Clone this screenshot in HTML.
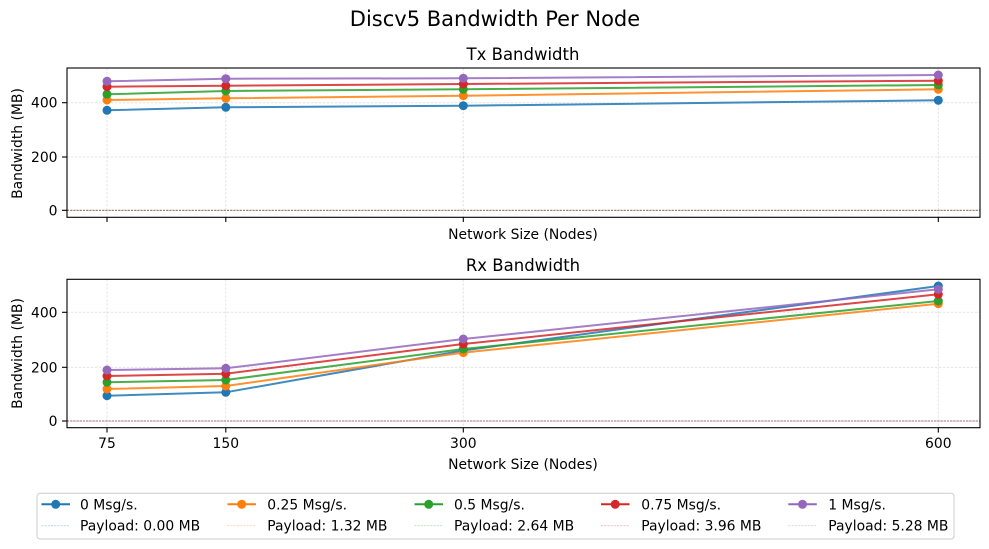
<!DOCTYPE html>
<html>
<head>
<meta charset="utf-8">
<style>
html,body{margin:0;padding:0;background:#fff;}
svg{display:block;font-family:"DejaVu Sans","Liberation Sans",sans-serif;}
</style>
</head>
<body>
<svg width="989" height="549" viewBox="0 0 989 549" xmlns="http://www.w3.org/2000/svg">
<rect width="989" height="549" fill="#fff"/>
<text x="495" y="26" font-size="21" text-anchor="middle" fill="#000">Discv5 Bandwidth Per Node</text>

<!-- ===== TOP AXES ===== -->
<text x="523" y="60" font-size="16.5" text-anchor="middle">Tx Bandwidth</text>
<g stroke="#b0b0b0" stroke-opacity="0.35" stroke-width="1" stroke-dasharray="2.5,1.5">
  <line x1="107" y1="68" x2="107" y2="217"/>
  <line x1="225.8" y1="68" x2="225.8" y2="217"/>
  <line x1="463.3" y1="68" x2="463.3" y2="217"/>
  <line x1="938.3" y1="68" x2="938.3" y2="217"/>
  <line x1="67" y1="210.3" x2="980" y2="210.3"/>
  <line x1="67" y1="157" x2="980" y2="157"/>
  <line x1="67" y1="102.7" x2="980" y2="102.7"/>
</g>
<g stroke-width="0.9" stroke-dasharray="2,1.2" fill="none">
  <line x1="67" y1="210.3" x2="980" y2="210.3" stroke="#1f77b4" stroke-opacity="0.5"/>
  <line x1="67" y1="210.3" x2="980" y2="210.3" stroke="#ff7f0e" stroke-opacity="0.5"/>
  <line x1="67" y1="210.3" x2="980" y2="210.3" stroke="#2ca02c" stroke-opacity="0.5"/>
  <line x1="67" y1="210.3" x2="980" y2="210.3" stroke="#d62728" stroke-opacity="0.3"/>
  <line x1="67" y1="210.3" x2="980" y2="210.3" stroke="#9467bd" stroke-opacity="0.3"/>
</g>
<g fill="none" stroke-width="2" stroke-opacity="0.85">
  <polyline stroke="#1f77b4" points="107,110.3 225.8,107.3 463.3,105.7 938.3,100.3"/>
  <polyline stroke="#ff7f0e" points="107,100 225.8,98.3 463.3,95.7 938.3,89.3"/>
  <polyline stroke="#2ca02c" points="107,94.3 225.8,91 463.3,89.3 938.3,85"/>
  <polyline stroke="#d62728" points="107,86.7 225.8,85.7 463.3,84 938.3,80.7"/>
  <polyline stroke="#9467bd" points="107,81.3 225.8,78.7 463.3,78.3 938.3,75"/>
</g>
<g>
  <g fill="#1f77b4"><circle cx="107" cy="110.3" r="4.5"/><circle cx="225.8" cy="107.3" r="4.5"/><circle cx="463.3" cy="105.7" r="4.5"/><circle cx="938.3" cy="100.3" r="4.5"/></g>
  <g fill="#ff7f0e"><circle cx="107" cy="100" r="4.5"/><circle cx="225.8" cy="98.3" r="4.5"/><circle cx="463.3" cy="95.7" r="4.5"/><circle cx="938.3" cy="89.3" r="4.5"/></g>
  <g fill="#2ca02c"><circle cx="107" cy="94.3" r="4.5"/><circle cx="225.8" cy="91" r="4.5"/><circle cx="463.3" cy="89.3" r="4.5"/><circle cx="938.3" cy="85" r="4.5"/></g>
  <g fill="#d62728"><circle cx="107" cy="86.7" r="4.5"/><circle cx="225.8" cy="85.7" r="4.5"/><circle cx="463.3" cy="84" r="4.5"/><circle cx="938.3" cy="80.7" r="4.5"/></g>
  <g fill="#9467bd"><circle cx="107" cy="81.3" r="4.5"/><circle cx="225.8" cy="78.7" r="4.5"/><circle cx="463.3" cy="78.3" r="4.5"/><circle cx="938.3" cy="75" r="4.5"/></g>
</g>
<rect x="67" y="68" width="913" height="149.3" fill="none" stroke="#000" stroke-width="1.1"/>
<g stroke="#000" stroke-width="1.1">
  <line x1="107" y1="217.3" x2="107" y2="222"/>
  <line x1="225.8" y1="217.3" x2="225.8" y2="222"/>
  <line x1="463.3" y1="217.3" x2="463.3" y2="222"/>
  <line x1="938.3" y1="217.3" x2="938.3" y2="222"/>
  <line x1="62" y1="210.3" x2="67" y2="210.3"/>
  <line x1="62" y1="157" x2="67" y2="157"/>
  <line x1="62" y1="102.7" x2="67" y2="102.7"/>
</g>
<g font-size="13.9" text-anchor="end">
  <text x="57.5" y="215.3">0</text>
  <text x="57.5" y="162">200</text>
  <text x="57.5" y="107.7">400</text>
</g>
<text transform="translate(22,143.5) rotate(-90)" font-size="13.9" text-anchor="middle">Bandwidth (MB)</text>
<text x="523" y="239" font-size="13.9" text-anchor="middle">Network Size (Nodes)</text>

<!-- ===== BOTTOM AXES ===== -->
<text x="523" y="271" font-size="16.5" text-anchor="middle">Rx Bandwidth</text>
<g stroke="#b0b0b0" stroke-opacity="0.35" stroke-width="1" stroke-dasharray="2.5,1.5">
  <line x1="107" y1="279.3" x2="107" y2="427.7"/>
  <line x1="225.8" y1="279.3" x2="225.8" y2="427.7"/>
  <line x1="463.3" y1="279.3" x2="463.3" y2="427.7"/>
  <line x1="938.3" y1="279.3" x2="938.3" y2="427.7"/>
  <line x1="67" y1="421" x2="980" y2="421"/>
  <line x1="67" y1="367.3" x2="980" y2="367.3"/>
  <line x1="67" y1="312.3" x2="980" y2="312.3"/>
</g>
<g stroke-width="0.9" stroke-dasharray="2,1.2" fill="none">
  <line x1="67" y1="421" x2="980" y2="421" stroke="#1f77b4" stroke-opacity="0.4"/>
  <line x1="67" y1="421" x2="980" y2="421" stroke="#ff7f0e" stroke-opacity="0.4"/>
  <line x1="67" y1="421" x2="980" y2="421" stroke="#2ca02c" stroke-opacity="0.3"/>
  <line x1="67" y1="421" x2="980" y2="421" stroke="#d62728" stroke-opacity="0.5"/>
  <line x1="67" y1="421" x2="980" y2="421" stroke="#9467bd" stroke-opacity="0.4"/>
</g>
<g fill="none" stroke-width="2" stroke-opacity="0.85">
  <polyline stroke="#1f77b4" points="107,395.7 225.8,392.3 463.3,350.5 938.3,286"/>
  <polyline stroke="#ff7f0e" points="107,389 225.8,386 463.3,352.6 938.3,303.7"/>
  <polyline stroke="#2ca02c" points="107,382.3 225.8,380 463.3,349 938.3,301"/>
  <polyline stroke="#d62728" points="107,376 225.8,373.7 463.3,344 938.3,294.3"/>
  <polyline stroke="#9467bd" points="107,370 225.8,368.3 463.3,339 938.3,289.3"/>
</g>
<g>
  <g fill="#1f77b4"><circle cx="107" cy="395.7" r="4.5"/><circle cx="225.8" cy="392.3" r="4.5"/><circle cx="463.3" cy="350.5" r="4.5"/><circle cx="938.3" cy="286" r="4.5"/></g>
  <g fill="#ff7f0e"><circle cx="107" cy="389" r="4.5"/><circle cx="225.8" cy="386" r="4.5"/><circle cx="463.3" cy="352.6" r="4.5"/><circle cx="938.3" cy="303.7" r="4.5"/></g>
  <g fill="#2ca02c"><circle cx="107" cy="382.3" r="4.5"/><circle cx="225.8" cy="380" r="4.5"/><circle cx="463.3" cy="349" r="4.5"/><circle cx="938.3" cy="301" r="4.5"/></g>
  <g fill="#d62728"><circle cx="107" cy="376" r="4.5"/><circle cx="225.8" cy="373.7" r="4.5"/><circle cx="463.3" cy="344" r="4.5"/><circle cx="938.3" cy="294.3" r="4.5"/></g>
  <g fill="#9467bd"><circle cx="107" cy="370" r="4.5"/><circle cx="225.8" cy="368.3" r="4.5"/><circle cx="463.3" cy="339" r="4.5"/><circle cx="938.3" cy="289.3" r="4.5"/></g>
</g>
<rect x="67" y="279.3" width="913" height="148.4" fill="none" stroke="#000" stroke-width="1.1"/>
<g stroke="#000" stroke-width="1.1">
  <line x1="107" y1="427.7" x2="107" y2="432.5"/>
  <line x1="225.8" y1="427.7" x2="225.8" y2="432.5"/>
  <line x1="463.3" y1="427.7" x2="463.3" y2="432.5"/>
  <line x1="938.3" y1="427.7" x2="938.3" y2="432.5"/>
  <line x1="62" y1="421" x2="67" y2="421"/>
  <line x1="62" y1="367.3" x2="67" y2="367.3"/>
  <line x1="62" y1="312.3" x2="67" y2="312.3"/>
</g>
<g font-size="13.9" text-anchor="end">
  <text x="57.5" y="426">0</text>
  <text x="57.5" y="372.3">200</text>
  <text x="57.5" y="317.3">400</text>
</g>
<g font-size="13.9" text-anchor="middle">
  <text x="107" y="448">75</text>
  <text x="225.8" y="448">150</text>
  <text x="463.3" y="448">300</text>
  <text x="938.3" y="448">600</text>
</g>
<text transform="translate(22,353.5) rotate(-90)" font-size="13.9" text-anchor="middle">Bandwidth (MB)</text>
<text x="523" y="469" font-size="13.9" text-anchor="middle">Network Size (Nodes)</text>

<!-- ===== LEGEND ===== -->
<rect x="37" y="493.3" width="917" height="45.7" rx="3" ry="3" fill="#fff" stroke="#cccccc" stroke-width="1"/>
<g font-size="13.9">
  <line x1="41.5" y1="504.3" x2="70" y2="504.3" stroke="#1f77b4" stroke-width="2"/>
  <circle cx="55.7" cy="504.3" r="4.5" fill="#1f77b4"/>
  <text x="80" y="509.3">0 Msg/s.</text>
  <line x1="41.5" y1="525.7" x2="70" y2="525.7" stroke="#1f77b4" stroke-opacity="0.35" stroke-width="0.8" stroke-dasharray="2,1.2"/>
  <text x="80" y="530.7">Payload: 0.00 MB</text>

  <line x1="227.5" y1="504.3" x2="256" y2="504.3" stroke="#ff7f0e" stroke-width="2"/>
  <circle cx="241.7" cy="504.3" r="4.5" fill="#ff7f0e"/>
  <text x="267.3" y="509.3">0.25 Msg/s.</text>
  <line x1="227.5" y1="525.7" x2="256" y2="525.7" stroke="#ff7f0e" stroke-opacity="0.35" stroke-width="0.8" stroke-dasharray="2,1.2"/>
  <text x="267.3" y="530.7">Payload: 1.32 MB</text>

  <line x1="414.5" y1="504.3" x2="443" y2="504.3" stroke="#2ca02c" stroke-width="2"/>
  <circle cx="428.7" cy="504.3" r="4.5" fill="#2ca02c"/>
  <text x="454" y="509.3">0.5 Msg/s.</text>
  <line x1="414.5" y1="525.7" x2="443" y2="525.7" stroke="#2ca02c" stroke-opacity="0.35" stroke-width="0.8" stroke-dasharray="2,1.2"/>
  <text x="454" y="530.7">Payload: 2.64 MB</text>

  <line x1="601" y1="504.3" x2="629.5" y2="504.3" stroke="#d62728" stroke-width="2"/>
  <circle cx="615.2" cy="504.3" r="4.5" fill="#d62728"/>
  <text x="641.3" y="509.3">0.75 Msg/s.</text>
  <line x1="601" y1="525.7" x2="629.5" y2="525.7" stroke="#d62728" stroke-opacity="0.35" stroke-width="0.8" stroke-dasharray="2,1.2"/>
  <text x="641.3" y="530.7">Payload: 3.96 MB</text>

  <line x1="788.3" y1="504.3" x2="816.8" y2="504.3" stroke="#9467bd" stroke-width="2"/>
  <circle cx="802.5" cy="504.3" r="4.5" fill="#9467bd"/>
  <text x="828.3" y="509.3">1 Msg/s.</text>
  <line x1="788.3" y1="525.7" x2="816.8" y2="525.7" stroke="#9467bd" stroke-opacity="0.35" stroke-width="0.8" stroke-dasharray="2,1.2"/>
  <text x="828.3" y="530.7">Payload: 5.28 MB</text>
</g>
</svg>
</body>
</html>
